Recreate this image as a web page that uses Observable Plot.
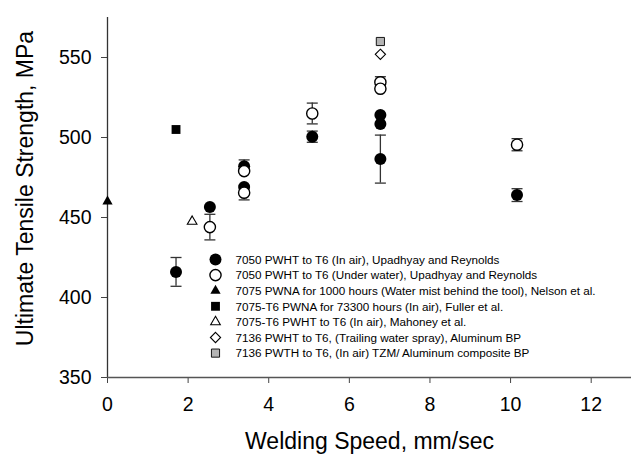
<!DOCTYPE html>
<html>
<head>
<meta charset="utf-8">
<script src="https://cdn.jsdelivr.net/npm/d3@7"></script>
<script src="https://cdn.jsdelivr.net/npm/@observablehq/plot@0.6"></script>
<style>
  html, body { margin: 0; padding: 0; background: #fff; }
  #chart svg { display: block; }
</style>
</head>
<body>
<div id="chart"></div>
<script>
// ---- data ----
const legendLabels = [
  "7050 PWHT to T6 (In air), Upadhyay and Reynolds",
  "7050 PWHT to T6 (Under water), Upadhyay and Reynolds",
  "7075 PWNA for 1000 hours (Water mist behind the tool), Nelson et al.",
  "7075-T6 PWNA for 73300 hours (In air), Fuller et al.",
  "7075-T6 PWHT to T6 (In air), Mahoney et al.",
  "7136 PWHT to T6, (Trailing water spray), Aluminum BP",
  "7136 PWTH to T6, (In air) TZM/ Aluminum composite BP"
];
const speedAir = [1.70, 2.54, 3.39, 3.39, 5.08, 6.77, 6.77, 6.77, 10.16];
const utsAir   = [416, 456.5, 482, 469, 500.5, 514, 508.5, 486.5, 464];
const errAir   = [9, 0, 4, 0, 3.5, 0, 0, 15, 4];
const speedWater = [2.54, 3.39, 3.39, 5.08, 6.77, 6.77, 10.16];
const utsWater   = [444, 479, 465.5, 515, 534.5, 530.5, 495.5];
const errWater   = [8, 0, 4.5, 6.5, 3.5, 0, 3.8];
const speedNelson = [0];    const utsNelson = [460];
const speedFuller = [1.70]; const utsFuller = [505];
const speedMahoney = [2.10]; const utsMahoney = [447.5];
const speedSpray = [6.77];  const utsSpray = [552];
const speedTZM = [6.77];    const utsTZM = [560];
const xTicks = [0, 2, 4, 6, 8, 10, 12];
const yTicks = [350, 400, 450, 500, 550];

// ---- build tables ----
const rows = (xs, ys, es) => xs.map((x, i) => ({x, y: ys[i], e: es ? es[i] : 0}));
const air = rows(speedAir, utsAir, errAir);
const water = rows(speedWater, utsWater, errWater);
const nelson = rows(speedNelson, utsNelson);
const fuller = rows(speedFuller, utsFuller);
const mahoney = rows(speedMahoney, utsMahoney);
const spray = rows(speedSpray, utsSpray);
const tzm = rows(speedTZM, utsTZM);
const errs = [...air, ...water].filter(d => d.e > 0);

// ---- styles ----
const capSymbol = {draw(ctx) { ctx.moveTo(-5.5, 0); ctx.lineTo(5.5, 0); }};
const errColor = "#333";
const styles = [
  {symbol: "circle", r: 6, fill: "#000", stroke: "none"},
  {symbol: "circle", r: 5.6, fill: "#fff", stroke: "#000", strokeWidth: 1.4},
  {symbol: "triangle", r: 3.8, fill: "#000", stroke: "none"},
  {symbol: "square", r: 5, fill: "#000", stroke: "none"},
  {symbol: "triangle2", r: 4.6, fill: "#fff", stroke: "#000", strokeWidth: 1.1},
  {symbol: "diamond2", r: 4.6, fill: "#fff", stroke: "#000", strokeWidth: 1.1},
  {symbol: "square", r: 4.6, fill: "#b4b4b4", stroke: "#000", strokeWidth: 0.9}
];
const seriesData = [air, water, nelson, fuller, mahoney, spray, tzm];
const drawOrder = [3, 4, 2, 0, 1, 5, 6];
const font = "'Liberation Sans', Arial, Helvetica, sans-serif";

const legendMarks = legendLabels.flatMap((label, i) => [
  Plot.dot([label], {frameAnchor: "top-left", dx: 108, dy: 242 + i * 15.6, ...styles[i]}),
  Plot.text([label], {frameAnchor: "top-left", dx: 128, dy: 242.5 + i * 15.6, text: d => d,
    textAnchor: "start", lineAnchor: "middle", fontSize: 11.7, fill: "#000"})
]);

const chart = Plot.plot({
  width: 631,
  height: 457,
  marginLeft: 107,
  marginRight: 0,
  marginTop: 17,
  marginBottom: 80,
  style: {fontFamily: font, fontSize: "19.5px", color: "#000", background: "#fff"},
  x: {domain: [0, 13], axis: null},
  y: {domain: [350, 575], axis: null},
  marks: [
    Plot.axisY({ticks: yTicks, tickSize: 6, tickPadding: 10, label: null, stroke: "#444", fill: "#000", tickFormat: d => d}),
    Plot.axisX({ticks: xTicks, tickSize: 6, tickPadding: 14, label: null, stroke: "#444", fill: "#000", tickFormat: d => d}),
    Plot.ruleX([0], {stroke: "#333", strokeWidth: 1.3}),
    Plot.ruleY([350], {stroke: "#555", strokeWidth: 1.3}),
    Plot.text(["Welding Speed, mm/sec"], {frameAnchor: "bottom", dy: 64.5, text: d => d, fontSize: 23, textAnchor: "middle", lineAnchor: "middle", fill: "#000"}),
    Plot.text(["Ultimate Tensile Strength, MPa"], {frameAnchor: "left", dx: -82, dy: -9, rotate: -90, text: d => d, fontSize: 23, textAnchor: "middle", lineAnchor: "middle", fill: "#000"}),
    Plot.ruleX(errs, {x: "x", y1: d => d.y - d.e, y2: d => d.y + d.e, stroke: errColor, strokeWidth: 1.3}),
    Plot.dot(errs, {x: "x", y: d => d.y + d.e, symbol: capSymbol, stroke: errColor, strokeWidth: 1.3, fill: "none"}),
    Plot.dot(errs, {x: "x", y: d => d.y - d.e, symbol: capSymbol, stroke: errColor, strokeWidth: 1.3, fill: "none"}),
    ...drawOrder.map(i => Plot.dot(seriesData[i], {x: "x", y: "y", ...styles[i]})),
    ...legendMarks
  ]
});
document.getElementById("chart").appendChild(chart);
</script>
</body>
</html>
